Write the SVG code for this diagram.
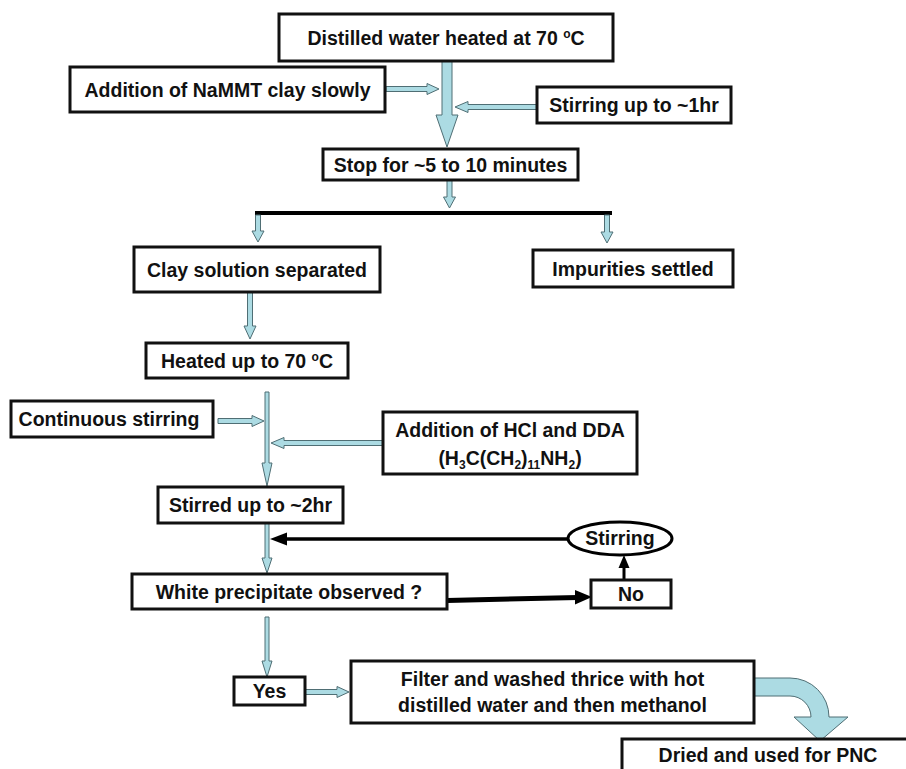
<svg xmlns="http://www.w3.org/2000/svg" width="906" height="769" viewBox="0 0 906 769">
<style>
.box{fill:#fff;stroke:#111;stroke-width:3}
.t{font-family:"Liberation Sans",Arial,sans-serif;font-weight:bold;font-size:19.5px;fill:#111;text-anchor:middle}
.ba{fill:#acdbe3;stroke:#4f6e74;stroke-width:1}
.bl{stroke:#000;fill:none}
.bh{fill:#000}
</style>
<rect width="906" height="769" fill="#fff"/>
<g id="connectors">
<polygon class="ba" points="442,61 452,61 452,115 458,115 447,147 436,115 442,115"/>
<polygon class="ba" points="386,86.5 427,86.5 427,83.5 439,89 427,94.5 427,91.5 386,91.5"/>
<polygon class="ba" points="537,104.5 468,104.5 468,101.5 455,107 468,112.5 468,109.5 537,109.5"/>
<polygon class="ba" points="447,180 452,180 452,197 455.5,197 449.5,208 443.5,197 447,197"/>
<line class="bl" x1="255" y1="213" x2="612" y2="213" stroke-width="4"/>
<polygon class="ba" points="255.5,215 260.5,215 260.5,231 264,231 258,242 252,231 255.5,231"/>
<polygon class="ba" points="604.5,215 609.5,215 609.5,232 613,232 607,243 601,232 604.5,232"/>
<polygon class="ba" points="247.5,292 252.5,292 252.5,326 256,326 250,339 244,326 247.5,326"/>
<polygon class="ba" points="265,392 269,392 269,463 272,463 267,486 262,463 265,463"/>
<polygon class="ba" points="218,418.5 252,418.5 252,415.5 264,421 252,426.5 252,423.5 218,423.5"/>
<polygon class="ba" points="383,440.5 284,440.5 284,437.5 271,443 284,448.5 284,445.5 383,445.5"/>
<polygon class="ba" points="265,523 269,523 269,558 272,558 267,573 262,558 265,558"/>
<polygon class="ba" points="265,617 269,617 269,661 272,661 267,677 262,661 265,661"/>
<polygon class="ba" points="305,689.5 337,689.5 337,686.5 349,692 337,697.5 337,694.5 305,694.5"/>
<path class="ba" d="M754,678 L790,678 A39,39 0 0 1 829,717 L848,717 L820,741 L794,717 L811,717 A21,21 0 0 0 790,696 L754,696 Z"/>
<line class="bl" x1="568" y1="539" x2="284" y2="539" stroke-width="3.5"/>
<polygon class="bh" points="270,539 287,532.5 287,545.5"/>
<line class="bl" x1="447" y1="600.5" x2="578" y2="597.5" stroke-width="5"/>
<polygon class="bh" points="592,597 575,590 575,604.5"/>
<line class="bl" x1="624" y1="580" x2="624" y2="566" stroke-width="3"/>
<polygon class="bh" points="624,555 618.5,568 629.5,568"/>
</g>
<g id="n-distilled"><rect class="box" x="279" y="14" width="334" height="47" stroke-width="4"/><text class="t" x="446" y="45">Distilled water heated at 70 <tspan font-size="12" dy="-7">o</tspan><tspan dy="7">C</tspan></text></g>
<g id="n-addition"><rect class="box" x="70" y="67" width="315" height="45"/><text class="t" x="227.5" y="97">Addition of NaMMT clay slowly</text></g>
<g id="n-stirring1"><rect class="box" x="537" y="87" width="194" height="36"/><text class="t" x="634" y="112">Stirring up to ~1hr</text></g>
<g id="n-stop"><rect class="box" x="323" y="149" width="255" height="31"/><text class="t" x="450.5" y="172">Stop for ~5 to 10 minutes</text></g>
<g id="n-clay"><rect class="box" x="134" y="247" width="246" height="45"/><text class="t" x="257" y="277">Clay solution separated</text></g>
<g id="n-impurities"><rect class="box" x="533" y="250" width="200" height="37"/><text class="t" x="633" y="276">Impurities settled</text></g>
<g id="n-heated"><rect class="box" x="146" y="343" width="202" height="35"/><text class="t" x="247" y="368">Heated up to 70 <tspan font-size="12" dy="-7">o</tspan><tspan dy="7">C</tspan></text></g>
<g id="n-continuous"><rect class="box" x="11" y="401" width="202" height="36"/><text class="t" x="109" y="426">Continuous stirring</text></g>
<g id="n-hcl"><rect class="box" x="383" y="412" width="254" height="62"/><text class="t" x="510" y="437">Addition of HCl and DDA</text><text class="t" x="510" y="465">(H<tspan font-size="12" dy="4">3</tspan><tspan dy="-4">C(CH</tspan><tspan font-size="12" dy="4">2</tspan><tspan dy="-4">)</tspan><tspan font-size="12" dy="4">11</tspan><tspan dy="-4">NH</tspan><tspan font-size="12" dy="4">2</tspan><tspan dy="-4">)</tspan></text></g>
<g id="n-stirred"><rect class="box" x="158" y="487" width="185" height="36"/><text class="t" x="250.5" y="512">Stirred up to ~2hr</text></g>
<g id="n-stirring2"><ellipse cx="620" cy="538.5" rx="52" ry="16.5" fill="#fff" stroke="#000" stroke-width="3"/><text class="t" x="620" y="545">Stirring</text></g>
<g id="n-white"><rect class="box" x="132" y="574" width="315" height="35"/><text class="t" x="289" y="599">White precipitate observed ?</text></g>
<g id="n-no"><rect class="box" x="591" y="580" width="80" height="28"/><text class="t" x="631" y="601">No</text></g>
<g id="n-yes"><rect class="box" x="234" y="677" width="71" height="28"/><text class="t" x="269.5" y="698">Yes</text></g>
<g id="n-filter"><rect class="box" x="351" y="661" width="403" height="62"/><text class="t" x="552.5" y="686">Filter and washed thrice with hot</text><text class="t" x="552.5" y="712">distilled water and then methanol</text></g>
<g id="n-dried"><rect class="box" x="622" y="739" width="290" height="40"/><text class="t" x="768" y="762">Dried and used for PNC</text></g>
</svg>
